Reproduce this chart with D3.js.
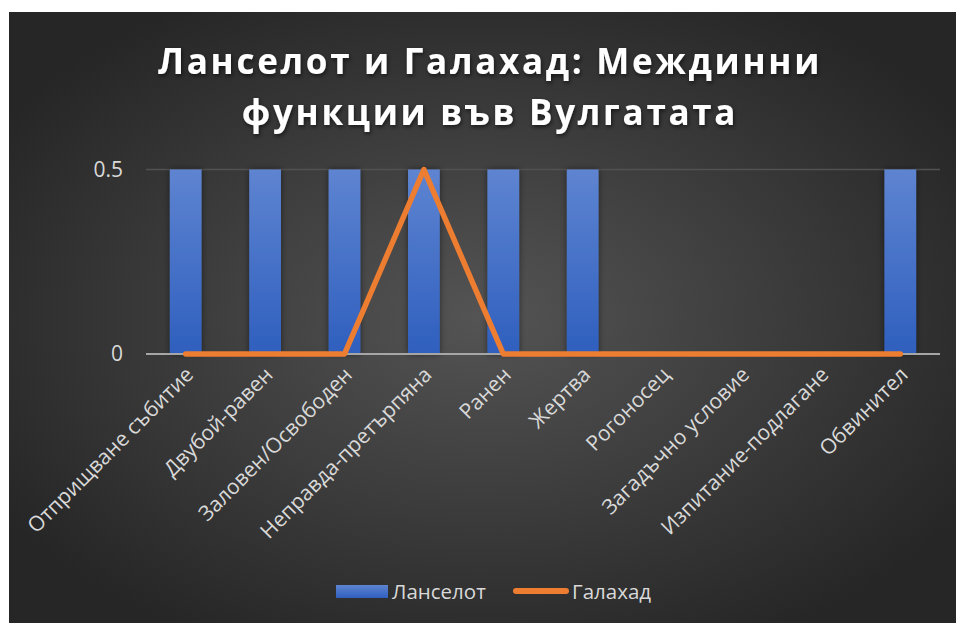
<!DOCTYPE html>
<html><head><meta charset="utf-8">
<script src="https://cdn.jsdelivr.net/npm/d3@7"></script>
<style>html,body{margin:0;padding:0;background:#fff;}svg{display:block;}</style>
</head><body>
<script>
const categories = ["Отприщване събитие","Двубой-равен","Заловен/Освободен","Неправда-претърпяна","Ранен","Жертва","Рогоносец","Загадъчно условие","Изпитание-подлагане","Обвинител"];
const lancelot = [0.5,0.5,0.5,0.5,0.5,0.5,0,0,0,0.5];
const galahad  = [0,0,0,0.5,0,0,0,0,0,0];
const yTicks = [0, 0.5];
const seriesNames = ["Ланселот","Галахад"];
const titleLines = ["Ланселот и Галахад: Междинни","функции във Вулгатата"];

const W = 956, H = 623;
const svg = d3.select("body").append("svg").attr("width", W).attr("height", H);
const defs = svg.append("defs");
const rg = defs.append("radialGradient").attr("id","bg").attr("cx","50%").attr("cy","50%").attr("r","60%");
rg.append("stop").attr("offset","0%").attr("stop-color","#545454");
rg.append("stop").attr("offset","100%").attr("stop-color","#262626");
const bg = defs.append("linearGradient").attr("id","bar").attr("x1",0).attr("y1",0).attr("x2",0).attr("y2",1);
bg.append("stop").attr("offset","0%").attr("stop-color","#5e84d1");
bg.append("stop").attr("offset","100%").attr("stop-color","#2f5fbe");
const f = defs.append("filter").attr("id","sh").attr("x","-30%").attr("y","-10%").attr("width","160%").attr("height","130%");
f.append("feDropShadow").attr("dx",0).attr("dy",0).attr("stdDeviation",3).attr("flood-color","#000").attr("flood-opacity",0.5);
const tf = defs.append("filter").attr("id","tsh").attr("x","-10%").attr("y","-20%").attr("width","120%").attr("height","150%");
tf.append("feDropShadow").attr("dx",1).attr("dy",2).attr("stdDeviation",2).attr("flood-color","#000").attr("flood-opacity",0.6);

svg.append("rect").attr("x",9).attr("y",12).attr("width",W-9).attr("height",H-12).attr("fill","url(#bg)");

const m = {left:146, right:940, top:169.5, bottom:354};
const x = d3.scaleBand().domain(categories).range([m.left, m.right]).paddingInner(0.6).paddingOuter(0.3);
const y = d3.scaleLinear().domain([0,0.5]).range([m.bottom, m.top]);

// gridlines
svg.append("g").selectAll("line").data(yTicks.filter(d=>d>0)).join("line")
  .attr("x1",m.left).attr("x2",m.right).attr("y1",d=>y(d)).attr("y2",d=>y(d))
  .attr("stroke","#525252").attr("stroke-width",1.5);

// bars
svg.append("g").attr("filter","url(#sh)").selectAll("rect").data(categories).join("rect")
  .attr("x",d=>x(d)).attr("width",x.bandwidth())
  .attr("y",(d,i)=>y(lancelot[i])).attr("height",(d,i)=>y(0)-y(lancelot[i]))
  .attr("fill","url(#bar)");

// zero axis
svg.append("line").attr("x1",m.left).attr("x2",m.right).attr("y1",y(0)).attr("y2",y(0))
  .attr("stroke","#a6a6a6").attr("stroke-width",2);

// y axis labels
const yAxis = d3.axisLeft(y).tickValues(yTicks).tickSize(0).tickPadding(0).tickFormat(d3.format("~g"));
const ya = svg.append("g").attr("transform",`translate(${m.left-23},0)`).call(yAxis);
ya.select(".domain").remove();
ya.selectAll("text").attr("fill","#d9d9d9").style("font-family","Open Sans, sans-serif").style("font-size","21px");

// line
const cx = d => x(d) + x.bandwidth()/2;
const line = d3.line().x((d,i)=>cx(categories[i])).y(d=>y(d));
svg.append("path").datum(galahad).attr("d",line).attr("fill","none")
  .attr("stroke","#ed7d31").attr("stroke-width",5.5).attr("stroke-linejoin","round").attr("stroke-linecap","round");

// x labels
const xAxis = d3.axisBottom(x).tickSize(0).tickPadding(0);
const xa = svg.append("g").attr("transform",`translate(0,${y(0)})`).call(xAxis);
xa.select(".domain").remove();
xa.selectAll("text").attr("fill","#d9d9d9").style("font-family","Open Sans, sans-serif").style("font-size","21px")
  .attr("text-anchor","end").attr("dy",0).attr("y",0)
  .attr("transform","translate(9,22) rotate(-45)");

// title
svg.append("g").selectAll("text").data(titleLines).join("text")
  .attr("x",490).attr("y",(d,i)=>74+i*51).attr("text-anchor","middle")
  .attr("fill","#ffffff").attr("filter","url(#tsh)")
  .style("font-family","Open Sans, sans-serif").style("font-weight","700").style("font-size","35px").style("letter-spacing","2.7px")
  .text(d=>d);

// legend
const lg = svg.append("g");
lg.append("rect").attr("x",336).attr("y",585).attr("width",52).attr("height",13).attr("fill","url(#bar)");
lg.append("text").attr("x",392).attr("y",599).text(seriesNames[0]);
lg.append("line").attr("x1",516).attr("x2",566).attr("y1",591).attr("y2",591).attr("stroke","#ed7d31").attr("stroke-width",6).attr("stroke-linecap","round");
lg.append("text").attr("x",572).attr("y",599).text(seriesNames[1]);
lg.selectAll("text").attr("fill","#d9d9d9").style("font-family","Open Sans, sans-serif").style("font-size","20.5px");
</script>
</body></html>
